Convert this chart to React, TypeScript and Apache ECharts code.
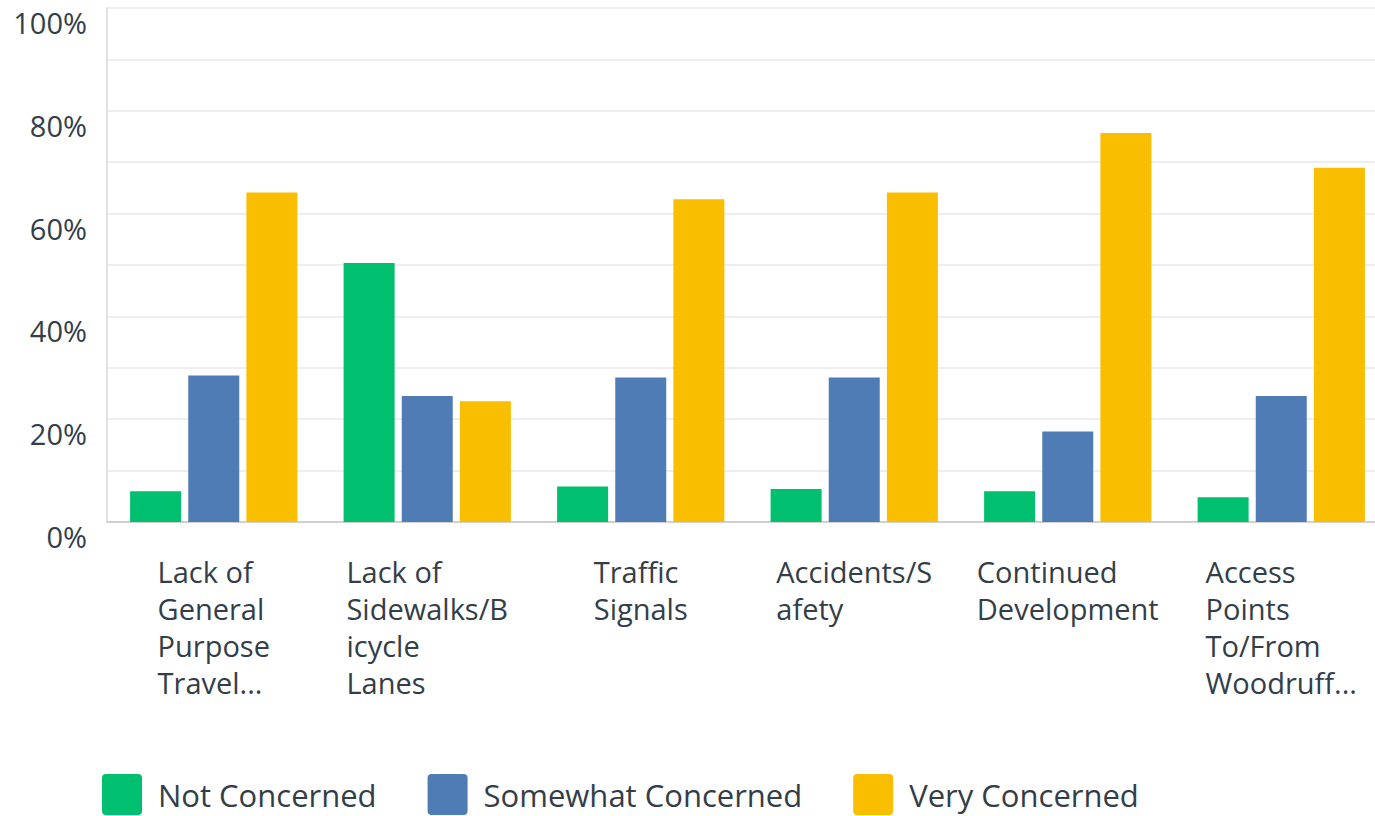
import React, { useEffect, useRef } from "react";
import * as echarts from "echarts";

const categories = [
  "Lack of General Purpose Travel...",
  "Lack of Sidewalks/Bicycle Lanes",
  "Traffic Signals",
  "Accidents/Safety",
  "Continued Development",
  "Access Points To/From Woodruff...",
];
const categoryLabelLines = [
  ["Lack of", "General", "Purpose", "Travel..."],
  ["Lack of", "Sidewalks/B", "icycle", "Lanes"],
  ["Traffic", "Signals"],
  ["Accidents/S", "afety"],
  ["Continued", "Development"],
  ["Access", "Points", "To/From", "Woodruff..."],
];
const seriesNames = ["Not Concerned", "Somewhat Concerned", "Very Concerned"];
const notConcerned = [6.0, 50.4, 6.9, 6.4, 6.0, 4.8];
const somewhatConcerned = [28.5, 24.5, 28.1, 28.1, 17.6, 24.5];
const veryConcerned = [64.1, 23.5, 62.8, 64.1, 75.7, 68.9];
const seriesColors = ["#00bf6f", "#507cb6", "#f9be00"];

const FONT = "Open Sans";
const TEXT = "#333e48";

export default function App() {
  const ref = useRef<HTMLDivElement>(null);
  useEffect(() => {
    if (!ref.current) return;
    const chart = echarts.init(ref.current, undefined, { renderer: "svg" });
    const values = [notConcerned, somewhatConcerned, veryConcerned];
    chart.setOption({
      animation: false,
      backgroundColor: "#ffffff",
      textStyle: { fontFamily: FONT },
      grid: { left: 107, width: 1281, top: 8, bottom: 294, containLabel: false },
      legend: {
        left: 102,
        top: 774,
        padding: 0,
        itemWidth: 40,
        itemHeight: 41,
        itemGap: 51,
        icon: "path://M4,0H36A4,4 0 0 1 40,4V37A4,4 0 0 1 36,41H4A4,4 0 0 1 0,37V4A4,4 0 0 1 4,0Z",
        textStyle: {
          fontFamily: FONT,
          fontSize: 31,
          lineHeight: 32,
          color: TEXT,
          padding: [6, 0, 0, 11],
        },
        data: seriesNames,
      },
      xAxis: {
        type: "category",
        data: categories,
        axisLine: { show: true, lineStyle: { color: "#d0d0d0", width: 2 } },
        axisTick: { show: false },
        axisLabel: {
          interval: 0,
          margin: 31,
          color: TEXT,
          fontFamily: FONT,
          fontSize: 29,
          lineHeight: 37,
          align: "center",
          formatter: (_v: string, idx: number) =>
            categoryLabelLines[idx].map((l) => `{a|${l}}`).join("\n"),
          rich: {
            a: { align: "left", fontFamily: FONT, fontSize: 29, lineHeight: 37, color: TEXT },
          },
        },
      },
      yAxis: {
        type: "value",
        min: 0,
        max: 100,
        interval: 10,
        axisLine: { show: true, lineStyle: { color: "#e2e2e2", width: 2 } },
        axisTick: { show: false },
        splitLine: { show: true, lineStyle: { color: "#eeeeee", width: 2 } },
        axisLabel: {
          margin: 20,
          color: TEXT,
          fontFamily: FONT,
          fontSize: 29,
          verticalAlign: "top",
          formatter: (v: number) => (v % 20 === 0 ? `${v}%` : ""),
        },
      },
      series: seriesNames.map((name, i) => ({
        name,
        type: "bar",
        data: values[i],
        barWidth: 51,
        barGap: "14%",
        itemStyle: { color: seriesColors[i] },
      })),
    });
    return () => chart.dispose();
  }, []);
  return (
    <div
      style={{
        position: "absolute",
        left: 0,
        top: 0,
        width: 1375,
        height: 816,
        overflow: "hidden",
      }}
    >
      <div ref={ref} style={{ width: 1400, height: 816 }} />
    </div>
  );
}
